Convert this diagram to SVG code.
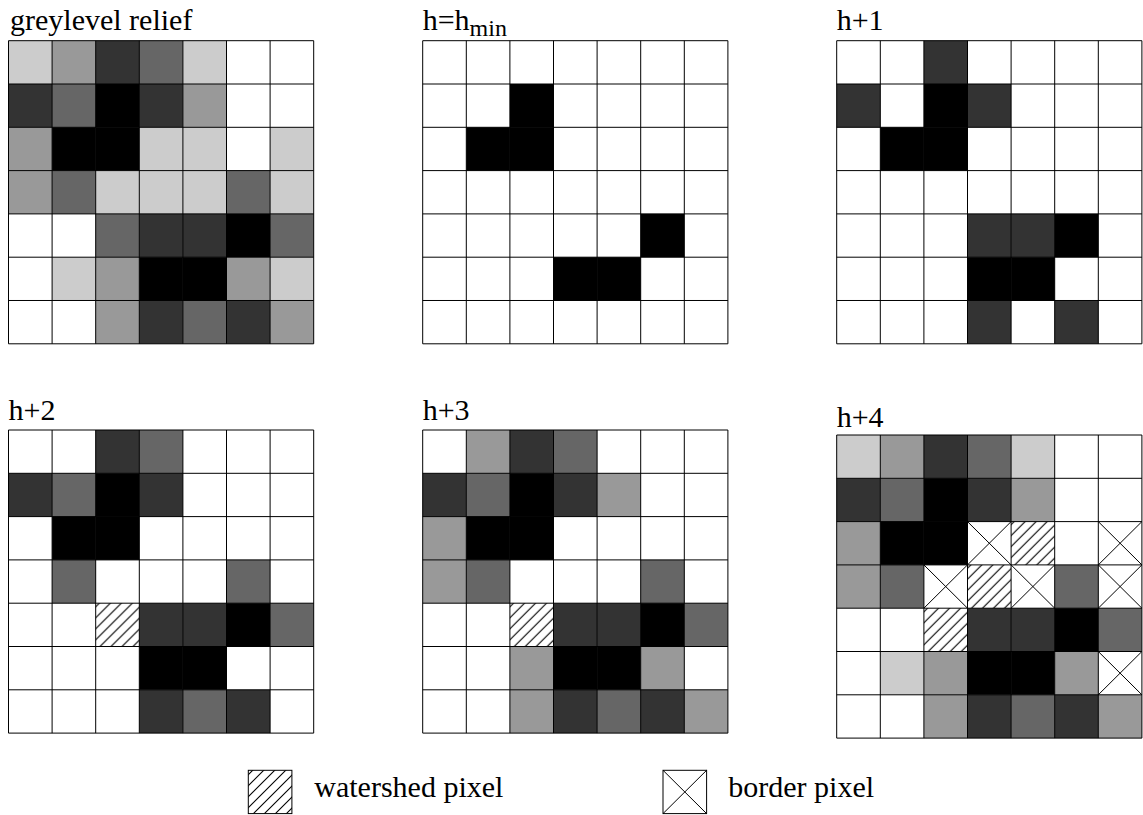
<svg xmlns="http://www.w3.org/2000/svg" xmlns:xlink="http://www.w3.org/1999/xlink" width="1143" height="815" viewBox="0 0 1143 815">
<style>
text{font-family:'Liberation Serif','Times New Roman','DejaVu Serif',serif;font-size:30px;fill:#000}
.c{fill:#ccc}.n{fill:#999}.s{fill:#666}.t{fill:#333}.b{fill:#000}.h{fill:url(#hatch)}
.bg{fill:#fff}
.ln{fill:none;stroke:#000;stroke-width:1}
</style>
<defs>
<pattern id="hatch" x="0" y="0" width="11" height="11" patternUnits="userSpaceOnUse">
<rect width="11" height="11" fill="#fff"/>
<path d="M-1,12L12,-1M-6,6L6,-6M5,17L17,5" stroke="#000" stroke-width="1.1" fill="none"/>
</pattern>
<path id="grid" class="ln" d="M0,0V303.1M43.6,0V303.1M87.2,0V303.1M130.8,0V303.1M174.4,0V303.1M218,0V303.1M261.6,0V303.1M305.2,0V303.1M0,0H305.2M0,43.3H305.2M0,86.6H305.2M0,129.9H305.2M0,173.2H305.2M0,216.5H305.2M0,259.8H305.2M0,303.1H305.2"/>
<path id="xcell" class="ln" d="M0,0L43.6,43.3M43.6,0L0,43.3"/>
</defs>
<rect width="1143" height="815" fill="#fff"/>

<g id="grid-relief" transform="translate(8.5,40.7)">
<rect class="bg" width="305.2" height="303.1"/>
<rect class="c" x="0" y="0" width="43.6" height="43.3"/>
<rect class="n" x="43.6" y="0" width="43.6" height="43.3"/>
<rect class="t" x="87.2" y="0" width="43.6" height="43.3"/>
<rect class="s" x="130.8" y="0" width="43.6" height="43.3"/>
<rect class="c" x="174.4" y="0" width="43.6" height="43.3"/>
<rect class="t" x="0" y="43.3" width="43.6" height="43.3"/>
<rect class="s" x="43.6" y="43.3" width="43.6" height="43.3"/>
<rect class="b" x="87.2" y="43.3" width="43.6" height="43.3"/>
<rect class="t" x="130.8" y="43.3" width="43.6" height="43.3"/>
<rect class="n" x="174.4" y="43.3" width="43.6" height="43.3"/>
<rect class="n" x="0" y="86.6" width="43.6" height="43.3"/>
<rect class="b" x="43.6" y="86.6" width="43.6" height="43.3"/>
<rect class="b" x="87.2" y="86.6" width="43.6" height="43.3"/>
<rect class="c" x="130.8" y="86.6" width="43.6" height="43.3"/>
<rect class="c" x="174.4" y="86.6" width="43.6" height="43.3"/>
<rect class="c" x="261.6" y="86.6" width="43.6" height="43.3"/>
<rect class="n" x="0" y="129.9" width="43.6" height="43.3"/>
<rect class="s" x="43.6" y="129.9" width="43.6" height="43.3"/>
<rect class="c" x="87.2" y="129.9" width="43.6" height="43.3"/>
<rect class="c" x="130.8" y="129.9" width="43.6" height="43.3"/>
<rect class="c" x="174.4" y="129.9" width="43.6" height="43.3"/>
<rect class="s" x="218" y="129.9" width="43.6" height="43.3"/>
<rect class="c" x="261.6" y="129.9" width="43.6" height="43.3"/>
<rect class="s" x="87.2" y="173.2" width="43.6" height="43.3"/>
<rect class="t" x="130.8" y="173.2" width="43.6" height="43.3"/>
<rect class="t" x="174.4" y="173.2" width="43.6" height="43.3"/>
<rect class="b" x="218" y="173.2" width="43.6" height="43.3"/>
<rect class="s" x="261.6" y="173.2" width="43.6" height="43.3"/>
<rect class="c" x="43.6" y="216.5" width="43.6" height="43.3"/>
<rect class="n" x="87.2" y="216.5" width="43.6" height="43.3"/>
<rect class="b" x="130.8" y="216.5" width="43.6" height="43.3"/>
<rect class="b" x="174.4" y="216.5" width="43.6" height="43.3"/>
<rect class="n" x="218" y="216.5" width="43.6" height="43.3"/>
<rect class="c" x="261.6" y="216.5" width="43.6" height="43.3"/>
<rect class="n" x="87.2" y="259.8" width="43.6" height="43.3"/>
<rect class="t" x="130.8" y="259.8" width="43.6" height="43.3"/>
<rect class="s" x="174.4" y="259.8" width="43.6" height="43.3"/>
<rect class="t" x="218" y="259.8" width="43.6" height="43.3"/>
<rect class="n" x="261.6" y="259.8" width="43.6" height="43.3"/>
<use href="#grid" xlink:href="#grid"/>
</g>

<g id="grid-hmin" transform="translate(422.7,40.7)">
<rect class="bg" width="305.2" height="303.1"/>
<rect class="b" x="87.2" y="43.3" width="43.6" height="43.3"/>
<rect class="b" x="43.6" y="86.6" width="43.6" height="43.3"/>
<rect class="b" x="87.2" y="86.6" width="43.6" height="43.3"/>
<rect class="b" x="218" y="173.2" width="43.6" height="43.3"/>
<rect class="b" x="130.8" y="216.5" width="43.6" height="43.3"/>
<rect class="b" x="174.4" y="216.5" width="43.6" height="43.3"/>
<use href="#grid" xlink:href="#grid"/>
</g>

<g id="grid-h1" transform="translate(836.7,40.7)">
<rect class="bg" width="305.2" height="303.1"/>
<rect class="t" x="87.2" y="0" width="43.6" height="43.3"/>
<rect class="t" x="0" y="43.3" width="43.6" height="43.3"/>
<rect class="b" x="87.2" y="43.3" width="43.6" height="43.3"/>
<rect class="t" x="130.8" y="43.3" width="43.6" height="43.3"/>
<rect class="b" x="43.6" y="86.6" width="43.6" height="43.3"/>
<rect class="b" x="87.2" y="86.6" width="43.6" height="43.3"/>
<rect class="t" x="130.8" y="173.2" width="43.6" height="43.3"/>
<rect class="t" x="174.4" y="173.2" width="43.6" height="43.3"/>
<rect class="b" x="218" y="173.2" width="43.6" height="43.3"/>
<rect class="b" x="130.8" y="216.5" width="43.6" height="43.3"/>
<rect class="b" x="174.4" y="216.5" width="43.6" height="43.3"/>
<rect class="t" x="130.8" y="259.8" width="43.6" height="43.3"/>
<rect class="t" x="218" y="259.8" width="43.6" height="43.3"/>
<use href="#grid" xlink:href="#grid"/>
</g>

<g id="grid-h2" transform="translate(8.5,430)">
<rect class="bg" width="305.2" height="303.1"/>
<rect class="t" x="87.2" y="0" width="43.6" height="43.3"/>
<rect class="s" x="130.8" y="0" width="43.6" height="43.3"/>
<rect class="t" x="0" y="43.3" width="43.6" height="43.3"/>
<rect class="s" x="43.6" y="43.3" width="43.6" height="43.3"/>
<rect class="b" x="87.2" y="43.3" width="43.6" height="43.3"/>
<rect class="t" x="130.8" y="43.3" width="43.6" height="43.3"/>
<rect class="b" x="43.6" y="86.6" width="43.6" height="43.3"/>
<rect class="b" x="87.2" y="86.6" width="43.6" height="43.3"/>
<rect class="s" x="43.6" y="129.9" width="43.6" height="43.3"/>
<rect class="s" x="218" y="129.9" width="43.6" height="43.3"/>
<rect class="h" x="87.2" y="173.2" width="43.6" height="43.3"/>
<rect class="t" x="130.8" y="173.2" width="43.6" height="43.3"/>
<rect class="t" x="174.4" y="173.2" width="43.6" height="43.3"/>
<rect class="b" x="218" y="173.2" width="43.6" height="43.3"/>
<rect class="s" x="261.6" y="173.2" width="43.6" height="43.3"/>
<rect class="b" x="130.8" y="216.5" width="43.6" height="43.3"/>
<rect class="b" x="174.4" y="216.5" width="43.6" height="43.3"/>
<rect class="t" x="130.8" y="259.8" width="43.6" height="43.3"/>
<rect class="s" x="174.4" y="259.8" width="43.6" height="43.3"/>
<rect class="t" x="218" y="259.8" width="43.6" height="43.3"/>
<use href="#grid" xlink:href="#grid"/>
</g>

<g id="grid-h3" transform="translate(422.7,430)">
<rect class="bg" width="305.2" height="303.1"/>
<rect class="n" x="43.6" y="0" width="43.6" height="43.3"/>
<rect class="t" x="87.2" y="0" width="43.6" height="43.3"/>
<rect class="s" x="130.8" y="0" width="43.6" height="43.3"/>
<rect class="t" x="0" y="43.3" width="43.6" height="43.3"/>
<rect class="s" x="43.6" y="43.3" width="43.6" height="43.3"/>
<rect class="b" x="87.2" y="43.3" width="43.6" height="43.3"/>
<rect class="t" x="130.8" y="43.3" width="43.6" height="43.3"/>
<rect class="n" x="174.4" y="43.3" width="43.6" height="43.3"/>
<rect class="n" x="0" y="86.6" width="43.6" height="43.3"/>
<rect class="b" x="43.6" y="86.6" width="43.6" height="43.3"/>
<rect class="b" x="87.2" y="86.6" width="43.6" height="43.3"/>
<rect class="n" x="0" y="129.9" width="43.6" height="43.3"/>
<rect class="s" x="43.6" y="129.9" width="43.6" height="43.3"/>
<rect class="s" x="218" y="129.9" width="43.6" height="43.3"/>
<rect class="h" x="87.2" y="173.2" width="43.6" height="43.3"/>
<rect class="t" x="130.8" y="173.2" width="43.6" height="43.3"/>
<rect class="t" x="174.4" y="173.2" width="43.6" height="43.3"/>
<rect class="b" x="218" y="173.2" width="43.6" height="43.3"/>
<rect class="s" x="261.6" y="173.2" width="43.6" height="43.3"/>
<rect class="n" x="87.2" y="216.5" width="43.6" height="43.3"/>
<rect class="b" x="130.8" y="216.5" width="43.6" height="43.3"/>
<rect class="b" x="174.4" y="216.5" width="43.6" height="43.3"/>
<rect class="n" x="218" y="216.5" width="43.6" height="43.3"/>
<rect class="n" x="87.2" y="259.8" width="43.6" height="43.3"/>
<rect class="t" x="130.8" y="259.8" width="43.6" height="43.3"/>
<rect class="s" x="174.4" y="259.8" width="43.6" height="43.3"/>
<rect class="t" x="218" y="259.8" width="43.6" height="43.3"/>
<rect class="n" x="261.6" y="259.8" width="43.6" height="43.3"/>
<use href="#grid" xlink:href="#grid"/>
</g>

<g id="grid-h4" transform="translate(836.7,435)">
<rect class="bg" width="305.2" height="303.1"/>
<rect class="c" x="0" y="0" width="43.6" height="43.3"/>
<rect class="n" x="43.6" y="0" width="43.6" height="43.3"/>
<rect class="t" x="87.2" y="0" width="43.6" height="43.3"/>
<rect class="s" x="130.8" y="0" width="43.6" height="43.3"/>
<rect class="c" x="174.4" y="0" width="43.6" height="43.3"/>
<rect class="t" x="0" y="43.3" width="43.6" height="43.3"/>
<rect class="s" x="43.6" y="43.3" width="43.6" height="43.3"/>
<rect class="b" x="87.2" y="43.3" width="43.6" height="43.3"/>
<rect class="t" x="130.8" y="43.3" width="43.6" height="43.3"/>
<rect class="n" x="174.4" y="43.3" width="43.6" height="43.3"/>
<rect class="n" x="0" y="86.6" width="43.6" height="43.3"/>
<rect class="b" x="43.6" y="86.6" width="43.6" height="43.3"/>
<rect class="b" x="87.2" y="86.6" width="43.6" height="43.3"/>
<rect class="h" x="174.4" y="86.6" width="43.6" height="43.3"/>
<rect class="n" x="0" y="129.9" width="43.6" height="43.3"/>
<rect class="s" x="43.6" y="129.9" width="43.6" height="43.3"/>
<rect class="h" x="130.8" y="129.9" width="43.6" height="43.3"/>
<rect class="s" x="218" y="129.9" width="43.6" height="43.3"/>
<rect class="h" x="87.2" y="173.2" width="43.6" height="43.3"/>
<rect class="t" x="130.8" y="173.2" width="43.6" height="43.3"/>
<rect class="t" x="174.4" y="173.2" width="43.6" height="43.3"/>
<rect class="b" x="218" y="173.2" width="43.6" height="43.3"/>
<rect class="s" x="261.6" y="173.2" width="43.6" height="43.3"/>
<rect class="c" x="43.6" y="216.5" width="43.6" height="43.3"/>
<rect class="n" x="87.2" y="216.5" width="43.6" height="43.3"/>
<rect class="b" x="130.8" y="216.5" width="43.6" height="43.3"/>
<rect class="b" x="174.4" y="216.5" width="43.6" height="43.3"/>
<rect class="n" x="218" y="216.5" width="43.6" height="43.3"/>
<rect class="n" x="87.2" y="259.8" width="43.6" height="43.3"/>
<rect class="t" x="130.8" y="259.8" width="43.6" height="43.3"/>
<rect class="s" x="174.4" y="259.8" width="43.6" height="43.3"/>
<rect class="t" x="218" y="259.8" width="43.6" height="43.3"/>
<rect class="n" x="261.6" y="259.8" width="43.6" height="43.3"/>
<use href="#xcell" xlink:href="#xcell" x="130.8" y="86.6"/>
<use href="#xcell" xlink:href="#xcell" x="261.6" y="86.6"/>
<use href="#xcell" xlink:href="#xcell" x="87.2" y="129.9"/>
<use href="#xcell" xlink:href="#xcell" x="174.4" y="129.9"/>
<use href="#xcell" xlink:href="#xcell" x="261.6" y="129.9"/>
<use href="#xcell" xlink:href="#xcell" x="261.6" y="216.5"/>
<use href="#grid" xlink:href="#grid"/>
</g>

<g id="labels">
<text x="10" y="30">greylevel relief</text>
<text x="422.7" y="30">h=h<tspan font-size="24" dy="6">min</tspan></text>
<text x="836.7" y="30">h+1</text>
<text x="8.5" y="420">h+2</text>
<text x="422.7" y="420">h+3</text>
<text x="836.7" y="426.7">h+4</text>
</g>

<g id="legend-watershed">
<rect class="h" x="248.3" y="770.3" width="43.6" height="43.3" stroke="#000" stroke-width="1"/>
<text x="314.3" y="797">watershed pixel</text>
</g>
<g id="legend-border">
<rect x="663" y="770.3" width="43.6" height="43.3" fill="#fff" stroke="#000" stroke-width="1"/>
<use href="#xcell" xlink:href="#xcell" x="663" y="770.3"/>
<text x="728.3" y="797">border pixel</text>
</g>
</svg>
